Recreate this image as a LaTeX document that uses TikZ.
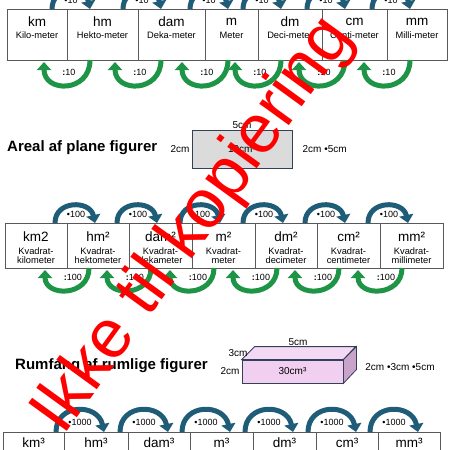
\documentclass[tikz,border=0pt]{standalone}
\usepackage{fontspec}
\setmainfont{Liberation Sans}
\usetikzlibrary{arrows.meta,positioning}
\definecolor{bowblue}{HTML}{1F5C78}
\definecolor{bowgreen}{HTML}{1E9447}
\definecolor{cellgray}{HTML}{595959}
\definecolor{boxpink}{HTML}{F0CFF0}
\definecolor{boxside}{HTML}{C9A3C9}
\definecolor{rimnavy}{HTML}{34405A}
\begin{document}
\begin{tikzpicture}[x=1pt,y=1pt,
    cellbox/.style = {draw=cellgray, line width=0.8pt},
    unit/.style = {font=\fontsize{13.5}{15}\selectfont, inner sep=0pt},
    sub/.style = {font=\fontsize{9.3}{9.6}\selectfont, inner sep=0pt, align=center},
    bowup/.style = {draw=bowblue, line width=5pt, -{Triangle[width=14pt,length=8pt]}},
    bowdown/.style = {draw=bowgreen, line width=5pt, -{Triangle[width=14pt,length=8pt]}},
    factor/.style = {font=\fontsize{9}{10}\selectfont, inner sep=0pt},
    heading/.style = {font=\bfseries\fontsize{15}{17}\selectfont, anchor=west, inner sep=0pt},
    measure/.style = {font=\fontsize{10}{12}\selectfont, inner sep=1pt}]
\useasboundingbox (0,0) rectangle (450,-450);
\clip (0,0) rectangle (450,-450);

% length units
\foreach \l/\r/\u/\n [count=\i] in {7/67/km/Kilo-meter, 67/138/hm/Hekto-meter,
    138/205/dam/Deka-meter, 205/258/m/Meter, 258/322/dm/Deci-meter,
    322/387/cm/Centi-meter, 387/447/mm/Milli-meter} {
  \draw[cellbox] (\l,-9) rectangle (\r,-60);
  \node[unit] (len\i) at ({(\l+\r)/2},-22) {\u};
  \node[sub] (lenname\i) at ({(\l+\r)/2},-35) {\n};
}
\foreach \b [count=\i] in {67,138,205,258,322,387} {
  \draw[bowup] (\b-15,-9) .. controls (\b-15,14) and (\b+18,14) .. (\b+23,-9);
  \draw[bowdown] (\b+23,-60) .. controls (\b+23,-93) and (\b-23,-93) .. (\b-23,-62);
  \node[factor] (lenmul\i) at (\b+4,-0.5) {•10};
  \node[factor] (lendiv\i) at (\b+2,-72) {\textbf{:}10};
}

% area
\node[heading] (areal) at (7,-148) {Areal af plane figurer};
\node[draw=rimnavy, fill=gray!28, line width=0.8pt, minimum width=100pt,
  minimum height=38pt, measure] (rect) at (242,-149) {10cm²};
\node[measure, above=0pt of rect] (rtop) {5cm};
\node[measure, left=1pt of rect] (rleft) {2cm};
\node[measure, right=9pt of rect] (rcalc) {2cm •5cm};

\foreach \l/\r/\u/\n [count=\i] in {5/67/km2/kilometer, 67/129/hm²/hektometer,
    129/192/dam²/dekameter, 192/255/m²/meter, 255/317/dm²/decimeter,
    317/380/cm²/centimeter, 380/443/mm²/millimeter} {
  \draw[cellbox] (\l,-223) rectangle (\r,-268);
  \node[unit] (sq\i) at ({(\l+\r)/2},-237) {\u};
  \node[sub] (sqname\i) at ({(\l+\r)/2},-255.5) {Kvadrat-\\\n};
}
\foreach \b [count=\i] in {67,129,192,255,317,380} {
  \draw[bowup] (\b-12,-223) .. controls (\b-12,-200) and (\b+23,-200) .. (\b+28,-223);
  \draw[bowdown] (\b+22,-268) .. controls (\b+22,-297) and (\b-22,-297) .. (\b-22,-270);
  \node[factor] (sqmul\i) at (\b+9,-214) {•100};
  \node[factor] (sqdiv\i) at (\b+6,-277) {\textbf{:}100};
}

% volume
\node[heading] (rumfang) at (15,-366) {Rumfang af rumlige figurer};
\node[draw=rimnavy, fill=boxpink, line width=0.8pt, minimum width=101pt,
  minimum height=23pt, measure] (front) at (292.5,-371.5) {30cm³};
\draw[draw=rimnavy, fill=boxpink!80, line width=0.8pt] (front.north west) -- ++(13,13)
  -- ++(101,0) -- (front.north east) -- cycle;
\draw[draw=rimnavy, fill=boxside, line width=0.8pt] (front.north east) -- ++(13,13)
  -- ++(0,-23) -- (front.south east) -- cycle;
\node[measure] (btop) at (298,-342) {5cm};
\node[measure] (bdepth) at (238,-353) {3cm};
\node[measure, left=1pt of front] (bleft) {2cm};
\node[measure] (bcalc) at (400,-367) {2cm •3cm •5cm};

\foreach \l/\r/\u [count=\i] in {3/64/km³, 64/128/hm³, 128/190/dam³, 190/253/m³,
    253/316/dm³, 316/378/cm³, 378/440/mm³} {
  \draw[cellbox] (\l,-432) rectangle (\r,-480);
  \node[unit] (cu\i) at ({(\l+\r)/2},-443) {\u};
}
\foreach \b [count=\i] in {64,128,190,253,316,378} {
  \draw[bowup] (\b-8,-432) .. controls (\b-8,-403) and (\b+34,-403) .. (\b+40,-432);
  \node[factor] (cumul\i) at (\b+16,-422) {•1000};
}

% stamp
\node[text=red, rotate=54, inner sep=0pt, font=\fontsize{69}{72}\selectfont]
  (stamp) at (194,-226) {Ikke til kopiering};
\end{tikzpicture}
\end{document}
